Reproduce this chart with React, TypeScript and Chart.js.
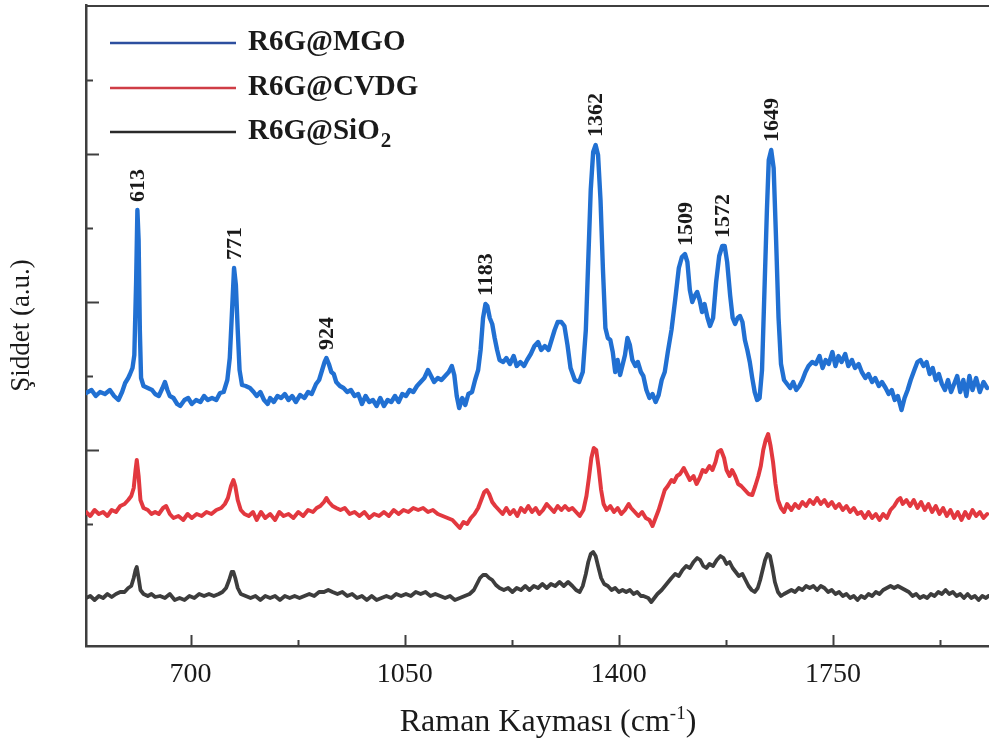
import React, { useEffect, useRef } from 'react';
import { Chart, registerables } from 'chart.js';

Chart.register(...registerables);

// ---------- data ----------
const seriesLabels = ['R6G@MGO', 'R6G@CVDG', 'R6G@SiO₂'];
const seriesColors = ['#2170d2', '#e2383f', '#3d3d3d'];
const legendColors = ['#2d4f9f', '#cf3d46', '#2a2a2a'];
const seriesWidths = [4.4, 4, 3.8];

const xTickValues = [700, 1050, 1400, 1750];
const xMinorTickValues = [875, 1225, 1575, 1925];
const yTickValues = [122, 196, 270, 344, 418, 492, 566];

const peakLabels = [613, 771, 924, 1183, 1362, 1509, 1572, 1649];

const mgoShift = [529,538,545,552,560,568,575,582,588,593,598,601,605,608,611,613,615,617,619,623,630,637,642,648,654,658,662,666,672,678,683,690,696,702,709,716,722,728,735,742,748,754,760,764,767,771,774,777,780,784,790,797,803,808,814,820,826,830,836,842,848,854,860,866,872,879,886,892,898,905,910,915,919,922,926,930,934,938,944,950,956,962,968,974,980,986,992,998,1004,1010,1016,1022,1028,1034,1040,1046,1052,1058,1064,1070,1076,1082,1088,1093,1098,1104,1110,1116,1122,1127,1131,1135,1139,1144,1149,1154,1160,1165,1170,1174,1178,1182,1185,1189,1193,1197,1201,1205,1211,1216,1222,1228,1233,1239,1245,1250,1256,1262,1268,1273,1279,1285,1290,1295,1300,1306,1311,1316,1321,1328,1335,1341,1346,1350,1354,1358,1362,1366,1370,1374,1378,1382,1386,1390,1394,1398,1402,1406,1410,1414,1418,1422,1427,1431,1436,1440,1445,1450,1455,1460,1465,1470,1475,1480,1486,1492,1498,1503,1508,1512,1516,1520,1524,1528,1532,1536,1540,1545,1549,1554,1559,1564,1569,1573,1577,1582,1586,1590,1594,1598,1602,1606,1610,1614,1618,1622,1626,1630,1634,1638,1642,1645,1649,1653,1657,1661,1665,1670,1675,1680,1685,1690,1695,1700,1705,1710,1716,1722,1728,1733,1738,1743,1749,1754,1759,1764,1770,1775,1781,1786,1792,1797,1803,1808,1814,1819,1825,1830,1836,1841,1846,1851,1856,1862,1867,1872,1877,1883,1888,1893,1898,1903,1908,1913,1918,1923,1928,1933,1938,1943,1948,1953,1958,1963,1968,1973,1978,1984,1990,1996,2002];
const mgoIntensity = [253,256,250,254,252,256,250,246,254,263,268,272,278,291,366,436,406,316,268,260,258,256,252,250,258,264,256,250,248,242,240,246,248,242,246,244,250,246,248,246,253,254,266,288,326,378,361,316,276,261,260,258,254,250,254,246,242,248,244,250,248,252,246,250,244,251,248,254,252,262,266,276,284,288,282,274,272,264,260,258,254,256,250,252,242,250,244,246,240,248,240,246,244,250,244,252,250,256,254,260,264,268,276,270,264,268,266,270,274,280,271,250,238,248,241,252,254,266,276,296,328,342,340,328,322,308,296,286,284,288,282,290,280,284,280,286,292,300,304,296,300,296,306,316,324,324,320,301,278,266,264,274,316,386,456,494,501,491,446,376,318,308,306,294,274,286,271,281,291,308,301,286,280,284,274,270,256,248,252,244,251,266,274,294,316,346,378,389,392,384,356,344,350,354,346,334,342,328,320,328,364,390,400,400,384,350,328,322,328,330,324,306,296,284,268,254,246,248,276,356,436,486,496,478,406,328,282,266,262,258,264,256,260,266,274,280,284,282,290,278,286,282,294,280,290,284,292,280,286,278,282,274,268,272,264,268,260,264,258,252,256,246,250,236,248,256,266,276,284,286,280,284,272,278,266,272,262,256,266,254,262,270,254,266,250,270,256,268,254,264,258];

const cvdgShift = [529,536,543,550,557,564,571,578,585,592,598,603,607,610,612,615,618,623,630,636,642,648,655,660,666,672,680,688,695,702,710,718,726,734,742,750,756,761,766,770,773,777,782,788,795,802,808,815,822,830,838,845,852,860,868,876,884,892,900,906,912,918,922,926,932,938,945,952,960,968,976,984,992,1000,1008,1016,1024,1032,1040,1048,1056,1064,1072,1080,1088,1096,1104,1112,1120,1128,1134,1140,1146,1152,1158,1164,1170,1175,1180,1184,1188,1193,1198,1204,1210,1216,1222,1228,1234,1240,1246,1252,1258,1264,1270,1276,1282,1288,1294,1300,1306,1312,1318,1324,1330,1336,1342,1347,1351,1355,1359,1363,1367,1371,1375,1380,1386,1392,1398,1404,1410,1416,1420,1426,1432,1438,1444,1450,1455,1460,1465,1470,1475,1480,1486,1490,1495,1500,1506,1511,1516,1522,1527,1532,1537,1542,1548,1553,1558,1562,1567,1572,1576,1581,1585,1590,1595,1600,1606,1612,1618,1623,1628,1632,1636,1640,1644,1648,1652,1656,1660,1665,1670,1675,1682,1688,1694,1700,1706,1712,1718,1724,1730,1736,1742,1748,1754,1760,1766,1772,1778,1784,1790,1796,1802,1808,1814,1820,1826,1832,1838,1844,1850,1856,1860,1864,1870,1876,1882,1888,1894,1900,1906,1912,1918,1924,1930,1936,1942,1948,1954,1960,1966,1972,1978,1984,1990,1996,2002];
const cvdgIntensity = [134,130,136,132,134,130,136,134,140,142,146,150,158,176,186,170,146,138,136,132,134,132,138,140,132,128,130,126,132,128,132,130,134,132,136,138,142,148,160,166,160,146,136,132,130,134,126,134,128,132,126,134,130,132,128,134,130,136,134,138,140,144,148,144,140,138,136,138,132,134,130,134,128,132,130,134,130,136,132,136,134,138,136,138,134,136,132,130,128,126,122,118,124,122,128,132,138,146,154,156,152,144,140,136,132,138,132,136,130,138,134,140,134,138,132,136,142,138,134,140,136,140,136,138,134,130,136,150,168,188,198,196,178,156,142,136,140,134,138,132,136,142,138,134,130,134,128,126,120,128,136,146,156,160,166,164,170,172,178,172,166,170,162,168,176,174,180,176,184,194,196,188,176,170,176,170,162,160,156,152,151,160,170,180,196,206,212,200,184,162,146,138,134,142,136,142,138,144,140,146,142,148,142,146,140,144,138,142,136,140,134,138,132,134,128,134,128,132,126,132,128,136,140,146,148,142,146,140,146,138,144,136,142,134,140,132,138,130,136,128,134,126,134,128,136,130,134,128,132];

const sio2Shift = [529,536,543,550,557,564,571,578,585,592,598,603,607,610,612,615,618,623,630,636,642,650,658,666,674,682,690,698,706,714,722,730,738,746,752,758,763,767,770,773,777,782,790,798,806,814,822,830,838,846,854,862,870,878,886,894,902,910,918,925,932,940,948,956,964,972,980,988,996,1004,1012,1020,1028,1036,1044,1052,1060,1068,1076,1084,1092,1100,1108,1116,1124,1132,1140,1148,1156,1163,1168,1173,1178,1183,1188,1193,1199,1205,1212,1219,1226,1233,1240,1247,1254,1261,1268,1275,1282,1289,1296,1303,1310,1317,1324,1330,1336,1341,1346,1350,1354,1358,1362,1366,1371,1376,1382,1388,1394,1400,1406,1412,1418,1424,1430,1436,1440,1448,1453,1458,1463,1470,1478,1486,1492,1498,1504,1510,1516,1522,1528,1533,1538,1543,1548,1554,1560,1566,1571,1576,1581,1586,1591,1596,1602,1607,1612,1617,1622,1627,1631,1635,1639,1643,1647,1651,1655,1660,1665,1670,1676,1682,1688,1694,1700,1706,1712,1718,1724,1730,1736,1742,1748,1754,1760,1766,1772,1778,1784,1790,1796,1802,1808,1814,1820,1826,1832,1838,1844,1850,1856,1862,1868,1874,1880,1886,1892,1898,1904,1910,1916,1922,1928,1934,1940,1946,1952,1958,1964,1970,1976,1982,1988,1994,2000,2004];
const sio2Intensity = [48,50,46,50,48,52,49,52,54,54,58,60,68,76,79,68,56,52,50,52,49,50,48,52,46,48,46,50,48,52,50,52,50,52,54,58,66,74,74,68,58,52,50,48,50,46,50,48,50,46,50,48,50,48,50,52,50,54,54,56,54,52,54,50,52,48,50,46,50,46,48,50,48,52,50,52,50,54,52,54,50,52,50,48,50,46,48,50,52,56,62,68,71,71,68,66,61,58,56,58,54,58,56,60,56,60,58,62,58,62,60,64,60,64,60,56,54,60,72,84,92,94,90,80,68,62,60,56,58,54,56,54,56,52,54,50,50,48,44,48,52,56,62,68,72,70,76,80,78,84,88,86,80,78,82,80,86,90,88,82,84,78,74,70,72,66,60,56,54,58,66,76,86,92,90,78,64,54,50,52,54,56,54,58,56,60,58,60,56,60,58,54,56,52,54,50,52,48,50,46,50,48,52,50,54,52,56,58,60,58,60,58,56,54,50,52,48,50,48,52,50,54,52,56,52,54,50,52,48,52,48,50,46,50,48,50];

// ---------- style constants ----------
const AXIS_COLOR = '#3f3f3f';
const TEXT_COLOR = '#1a1a1a';
const SERIF = '"Liberation Serif", "Times New Roman", serif';

function toPoints(xs: number[], ys: number[]) {
  return xs.map((x, i) => ({ x, y: ys[i] }));
}

const decorPlugin = {
  id: 'decor',
  afterDatasetsDraw(chart: any) {
    const { ctx, chartArea, scales } = chart;
    const xs = scales.x;
    const ys = scales.y;
    ctx.save();

    // top frame line
    ctx.strokeStyle = AXIS_COLOR;
    ctx.lineWidth = 2;
    ctx.beginPath();
    ctx.moveTo(chartArea.left, chartArea.top + 1);
    ctx.lineTo(chartArea.right, chartArea.top + 1);
    ctx.stroke();

    // inward x ticks
    xTickValues.forEach((v) => {
      const px = Math.round(xs.getPixelForValue(v)) + 0.5;
      ctx.beginPath();
      ctx.moveTo(px, chartArea.bottom);
      ctx.lineTo(px, chartArea.bottom - 11);
      ctx.stroke();
    });
    xMinorTickValues.forEach((v) => {
      const px = Math.round(xs.getPixelForValue(v)) + 0.5;
      ctx.beginPath();
      ctx.moveTo(px, chartArea.bottom);
      ctx.lineTo(px, chartArea.bottom - 6);
      ctx.stroke();
    });
    // inward y ticks (alternating lengths)
    yTickValues.forEach((v, i) => {
      const py = Math.round(ys.getPixelForValue(v)) + 0.5;
      const len = i % 2 === 0 ? 7 : 13;
      ctx.beginPath();
      ctx.moveTo(chartArea.left, py);
      ctx.lineTo(chartArea.left + len, py);
      ctx.stroke();
    });

    // peak labels above the MGO spectrum
    ctx.fillStyle = TEXT_COLOR;
    ctx.font = 'bold 22px ' + SERIF;
    peakLabels.forEach((p) => {
      let best = -Infinity;
      let bx = p;
      mgoShift.forEach((s, i) => {
        if (Math.abs(s - p) <= 8 && mgoIntensity[i] > best) {
          best = mgoIntensity[i];
          bx = s;
        }
      });
      const px = xs.getPixelForValue(bx);
      const py = ys.getPixelForValue(best) - 8;
      ctx.save();
      ctx.translate(px, py);
      ctx.rotate(-Math.PI / 2);
      ctx.textAlign = 'left';
      ctx.textBaseline = 'middle';
      ctx.fillText(String(p), 0, 1);
      ctx.restore();
    });

    // legend
    const legendY = [43, 88, 132];
    chart.data.datasets.forEach((ds: any, i: number) => {
      const y = legendY[i];
      ctx.strokeStyle = legendColors[i];
      ctx.lineWidth = 2.5;
      ctx.beginPath();
      ctx.moveTo(110, y);
      ctx.lineTo(236, y);
      ctx.stroke();
      ctx.fillStyle = TEXT_COLOR;
      ctx.font = 'bold 29px ' + SERIF;
      ctx.textAlign = 'left';
      ctx.textBaseline = 'middle';
      const label: string = ds.label;
      if (label.endsWith('₂')) {
        const main = label.slice(0, -1);
        ctx.fillText(main, 248, y);
        const w = ctx.measureText(main).width;
        ctx.font = 'bold 21px ' + SERIF;
        ctx.fillText('2', 248 + w + 1, y + 10);
      } else {
        ctx.fillText(label, 248, y);
      }
    });

    // x axis title with superscript
    ctx.fillStyle = TEXT_COLOR;
    ctx.textBaseline = 'alphabetic';
    ctx.textAlign = 'left';
    const part1 = 'Raman Kayması (cm';
    const sup = '-1';
    const part2 = ')';
    ctx.font = '32px ' + SERIF;
    const w1 = ctx.measureText(part1).width;
    const w3 = ctx.measureText(part2).width;
    ctx.font = '19px ' + SERIF;
    const w2 = ctx.measureText(sup).width;
    const total = w1 + w2 + w3;
    const cx = 548;
    const base = 731;
    const x0 = cx - total / 2;
    ctx.font = '32px ' + SERIF;
    ctx.fillText(part1, x0, base);
    ctx.font = '19px ' + SERIF;
    ctx.fillText(sup, x0 + w1, base - 12);
    ctx.font = '32px ' + SERIF;
    ctx.fillText(part2, x0 + w1 + w2, base);

    ctx.restore();
  },
};

export default function App() {
  const canvasRef = useRef<HTMLCanvasElement | null>(null);

  useEffect(() => {
    if (!canvasRef.current) return;
    const makeDs = (i: number, xs: number[], ys: number[]) => ({
      label: seriesLabels[i],
      data: toPoints(xs, ys),
      borderColor: seriesColors[i],
      backgroundColor: seriesColors[i],
      borderWidth: seriesWidths[i],
      pointRadius: 0,
      tension: 0,
      borderJoinStyle: 'round' as const,
      borderCapStyle: 'round' as const,
    });
    const chart = new Chart(canvasRef.current, {
      type: 'line',
      data: {
        datasets: [
          makeDs(0, mgoShift, mgoIntensity),
          makeDs(1, cvdgShift, cvdgIntensity),
          makeDs(2, sio2Shift, sio2Intensity),
        ],
      },
      options: {
        animation: false,
        responsive: false,
        devicePixelRatio: 1,
        layout: { padding: { top: 5, right: 0, left: 0, bottom: 0 } },
        plugins: {
          legend: { display: false },
          tooltip: { enabled: false },
        },
        scales: {
          x: {
            type: 'linear',
            min: 529,
            max: 2005,
            afterBuildTicks: (scale: any) => {
              scale.ticks = xTickValues.map((v) => ({ value: v }));
            },
            afterFit: (scale: any) => {
              scale.height = 99;
            },
            grid: { display: true, drawOnChartArea: false, drawTicks: false },
            border: { display: true, color: AXIS_COLOR, width: 2.5 },
            ticks: {
              color: TEXT_COLOR,
              font: { family: SERIF, size: 28 },
              padding: 12,
              maxRotation: 0,
              callback: (v: any) => String(v),
            },
          },
          y: {
            type: 'linear',
            min: 0,
            max: 641,
            afterBuildTicks: (scale: any) => {
              scale.ticks = yTickValues.map((v) => ({ value: v }));
            },
            afterFit: (scale: any) => {
              scale.width = 86;
            },
            grid: { display: true, drawOnChartArea: false, drawTicks: false },
            border: { display: true, color: AXIS_COLOR, width: 2.5 },
            ticks: { display: false },
            title: {
              display: true,
              text: 'Şiddet (a.u.)',
              color: TEXT_COLOR,
              font: { family: SERIF, size: 27 },
              padding: { top: 6, bottom: 0 },
            },
          },
        },
      },
      plugins: [decorPlugin],
    });
    return () => chart.destroy();
  }, []);

  return (
    <div style={{ position: 'absolute', left: 0, top: 0, width: 989, height: 745, background: '#fff' }}>
      <canvas ref={canvasRef} width={989} height={745} style={{ display: 'block' }} />
    </div>
  );
}
